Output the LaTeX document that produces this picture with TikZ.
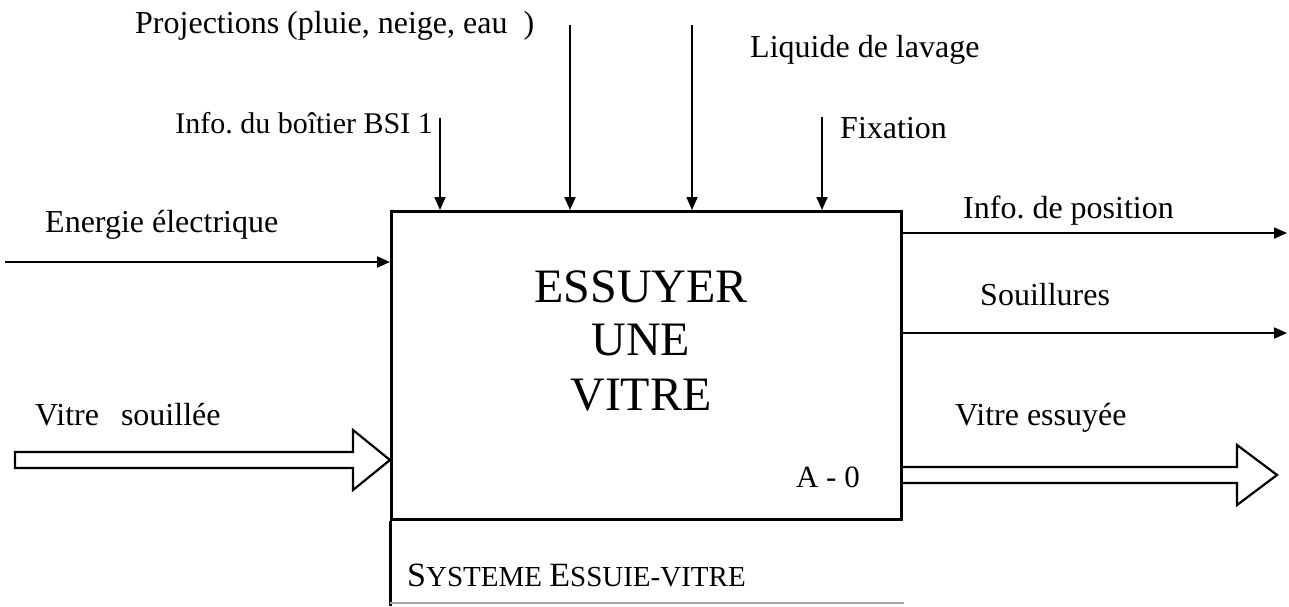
\documentclass[tikz,border=0pt]{standalone}
\usepackage{fontspec}
\setmainfont{Liberation Serif}
\usetikzlibrary{arrows.meta,calc}
\begin{document}
\frenchspacing
\begin{tikzpicture}[x=1pt,y=-1pt,
  lbl/.style={anchor=base west,inner sep=0pt,font=\fontsize{32}{38}\selectfont},
  big/.style={anchor=base,inner sep=0pt,font=\fontsize{48}{54}\selectfont},
  thinarrow/.style={line width=1.8pt,-{Triangle[length=13pt,width=11pt]}},
  hollow/.style={line width=2.2pt,fill=white,line join=miter}]
\useasboundingbox (0,0) rectangle (1289,606);
% main box
\node[draw,line width=3pt,minimum width=510pt,minimum height=308pt,inner sep=0pt,anchor=north west] (box) at (390,210) {};
\node[big] (t1) at (641,302) {ESSUYER};
\node[big] (t2) at (641,355) {UNE};
\node[big] (t3) at (641,410) {VITRE};
\node[anchor=base east,inner sep=0pt,font=\fontsize{31}{36}\selectfont] (ref) at (860,487) {A - 0};
% controls (top)
\coordinate (cBSI) at (440,118);
\coordinate (cProj) at (570,25);
\coordinate (cLiq) at (692,25);
\coordinate (cFix) at (822,117);
\draw[thinarrow] (cBSI) -- (cBSI |- box.north);
\draw[thinarrow] (cProj) -- (cProj |- box.north);
\draw[thinarrow] (cLiq) -- (cLiq |- box.north);
\draw[thinarrow] (cFix) -- (cFix |- box.north);
\node[lbl] (lProj) at (135,33) {Projections (pluie, neige, eau\ \ )};
\node[lbl] (lLiq) at (750,57) {Liquide de lavage};
\node[lbl,anchor=base east,font=\fontsize{30}{36}\selectfont] (lBSI) at (433,133) {Info. du boîtier BSI 1};
\node[lbl] (lFix) at (840,138) {Fixation};
% input energie
\coordinate (cEn) at (5,262);
\draw[thinarrow] (cEn) -- (cEn -| box.west);
\node[lbl] (lEn) at (45,232) {Energie électrique};
% outputs
\coordinate (oPos) at (1287,233);
\coordinate (oSou) at (1287,333);
\draw[thinarrow] (oPos -| box.east) -- (oPos);
\draw[thinarrow] (oSou -| box.east) -- (oSou);
\node[lbl] (lPos) at (963,218) {Info. de position};
\node[lbl] (lSou) at (980,305) {Souillures};
% hollow arrow in: Vitre souillee
\coordinate (vIn) at (15,460);
\draw[hollow] (vIn) ++(0,-8) -- (353,452) -- (353,430) -- (vIn -| box.west) -- (353,490) -- (353,468) -- ($(vIn)+(0,8)$) -- cycle;
\node[lbl] (lVs) at (35,425) {Vitre\hspace{22pt}souillée};
% hollow arrow out: Vitre essuyee
\coordinate (vOut) at (1277,475);
\draw[hollow] ($(vOut -| box.east)+(0,-8)$) -- (1237,467) -- (1237,445) -- (vOut) -- (1237,505) -- (1237,483) -- ($(vOut -| box.east)+(0,8)$);
\node[lbl] (lVe) at (955,425) {Vitre essuyée};
% mechanism area
\coordinate (mBot) at (390,606);
\draw[line width=3pt] (box.south west) -- (mBot);
\coordinate (gEnd) at (904,603);
\draw[line width=2pt,black!35] (gEnd -| box.west) -- (gEnd);
\node[anchor=base west,inner sep=0pt] (lSys) at (407,586) {\fontsize{34}{38}\selectfont S\fontsize{29}{32}\selectfont YSTEME \fontsize{34}{38}\selectfont E\fontsize{29}{32}\selectfont SSUIE-VITRE};
\end{tikzpicture}
\end{document}
